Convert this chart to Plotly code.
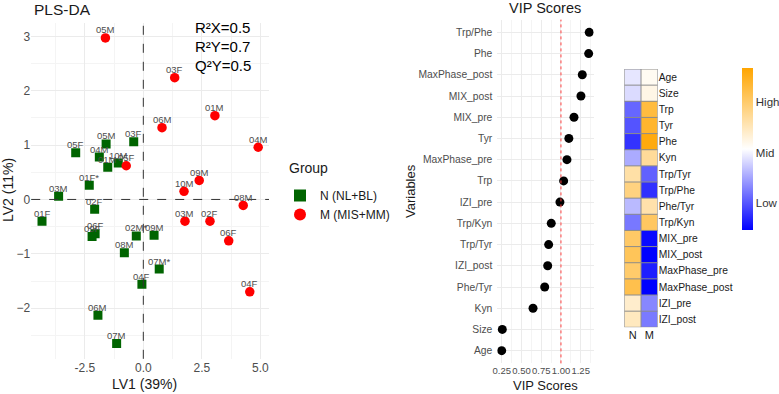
import plotly.graph_objects as go

# ---------------- data ----------------
n_labels = ["05F", "04M", "05M", "03F", "01M", "10M", "01F*", "03M", "02F", "01F",
            "06F", "09F", "02M*", "09M", "08M", "07M*", "04F", "06M", "07M"]
n_lv1 = [-2.89, -1.88, -1.59, -0.41, -1.52, -1.07, -2.31, -3.62, -2.08, -4.33,
         -2.06, -2.19, -0.30, 0.46, -0.81, 0.68, -0.06, -1.94, -1.14]
n_lv2 = [0.86, 0.78, 1.02, 1.06, 0.59, 0.67, 0.26, 0.06, -0.18, -0.40,
         -0.63, -0.68, -0.67, -0.66, -0.98, -1.28, -1.56, -2.13, -2.65]

m_labels = ["05M", "03F", "01M", "06M", "04M", "09M", "10M", "05F", "08M", "03M",
            "02F", "06F", "04F"]
m_lv1 = [-1.62, 1.34, 3.06, 0.80, 4.91, 2.39, 1.74, -0.73, 4.27, 1.78, 2.85, 3.65, 4.55]
m_lv2 = [2.97, 2.24, 1.54, 1.32, 0.96, 0.35, 0.15, 0.62, -0.11, -0.40, -0.40, -0.76, -1.70]

x_ticks = [-2.5, 0.0, 2.5, 5.0]
x_ticktext = ["-2.5", "0.0", "2.5", "5.0"]
y_ticks = [-2, -1, 0, 1, 2, 3]

vip_vars = ["Trp/Phe", "Phe", "MaxPhase_post", "MIX_post", "MIX_pre", "Tyr",
            "MaxPhase_pre", "Trp", "IZI_pre", "Trp/Kyn", "Trp/Tyr", "IZI_post",
            "Phe/Tyr", "Kyn", "Size", "Age"]
vip_scores = [1.358, 1.351, 1.270, 1.253, 1.165, 1.100, 1.076, 1.034, 0.987,
              0.877, 0.844, 0.832, 0.794, 0.646, 0.257, 0.249]
vip_ticks = [0.25, 0.50, 0.75, 1.00, 1.25]
vip_ticktext = ["0.25", "0.50", "0.75", "1.00", "1.25"]
vip_threshold = 1.0

heat_vars = ["Age", "Size", "Trp", "Tyr", "Phe", "Kyn", "Trp/Tyr", "Trp/Phe",
             "Phe/Tyr", "Trp/Kyn", "MIX_pre", "MIX_post", "MaxPhase_pre",
             "MaxPhase_post", "IZI_pre", "IZI_post"]
heat_groups = ["N", "M"]
heat_N = [-0.10, -0.14, -0.60, -0.67, -0.80, -0.33, 0.35, 0.50,
          -0.27, -0.53, 0.60, 0.65, 0.58, 0.70, 0.20, 0.25]
heat_M = [0.05, 0.10, 0.75, 0.82, 0.95, 0.40, -0.62, -0.81,
          0.33, 0.62, -0.96, -1.00, -0.88, -1.00, -0.47, -0.52]
legend_labels = ["High", "Mid", "Low"]
legend_vals = [0.58, -0.05, -0.67]

# ---------------- layout helpers ----------------
W, H = 779, 394
FONT = "Liberation Sans"
GRID = "#ebebeb"
MINOR = "#f4f4f4"
TICKC = "#4d4d4d"


def px_x(a, b):
    return [a / W, b / W]


def px_y(top, bottom):
    return [1 - bottom / H, 1 - top / H]


def padded(vals, frac=0.05):
    lo, hi = min(vals), max(vals)
    d = (hi - lo) * frac
    return [lo - d, hi + d]


fig = go.Figure()

# ---------------- PLS-DA scatter ----------------
fig.add_trace(go.Scatter(
    x=n_lv1, y=n_lv2, mode="markers", name="N (NL+BL)",
    marker=dict(symbol="square", size=9, color="#006400"),
    xaxis="x", yaxis="y", hoverinfo="skip"))
fig.add_trace(go.Scatter(
    x=m_lv1, y=m_lv2, mode="markers", name="M (MIS+MM)",
    marker=dict(symbol="circle", size=9.5, color="#ff0000"),
    xaxis="x", yaxis="y", hoverinfo="skip"))

annotations = []
for lab, xv, yv in list(zip(n_labels, n_lv1, n_lv2)) + list(zip(m_labels, m_lv1, m_lv2)):
    annotations.append(dict(
        x=xv, y=yv, xref="x", yref="y", text=lab, showarrow=False,
        yshift=8, font=dict(family=FONT, size=9.5, color="#4d4d4d")))

# ---------------- VIP dot plot ----------------
fig.add_trace(go.Scatter(
    x=vip_scores, y=vip_vars, mode="markers", showlegend=False,
    marker=dict(size=9, color="#000000"),
    xaxis="x2", yaxis="y2", hoverinfo="skip"))

# ---------------- heatmap ----------------
z = [[a, b] for a, b in zip(heat_N, heat_M)]
cb_top, cb_bot = 67.7, 229.3
fig.add_trace(go.Heatmap(
    z=z, x=heat_groups, y=heat_vars, zmin=-1, zmax=1,
    colorscale=[[0, "#0000ff"], [0.5, "#ffffff"], [1, "#ffa500"]],
    xaxis="x3", yaxis="y3", hoverinfo="skip",
    colorbar=dict(
        thickness=11, lenmode="pixels", len=cb_bot - cb_top,
        x=741.7 / W, xanchor="left", xpad=0, ypad=0,
        y=1 - (cb_top + cb_bot) / 2 / H, yanchor="middle",
        outlinewidth=0, ticks="", tickvals=legend_vals, ticktext=legend_labels,
        tickfont=dict(family=FONT, size=11.5, color="#333333"))))

shapes = [
    dict(type="line", xref="x", yref="y domain", x0=0, x1=0, y0=0, y1=1,
         line=dict(color="#333333", width=1, dash="dash")),
    dict(type="line", xref="x domain", yref="y", x0=0, x1=1, y0=0, y1=0,
         line=dict(color="#333333", width=1, dash="dash")),
    dict(type="line", xref="x2", yref="y2 domain", x0=vip_threshold, x1=vip_threshold,
         y0=0, y1=1, line=dict(color="#ff4040", width=1, dash="dot")),
]
for i in range(len(heat_groups) + 1):
    shapes.append(dict(type="line", xref="x3", yref="y3", x0=i - 0.5, x1=i - 0.5,
                       y0=-0.5, y1=len(heat_vars) - 0.5,
                       line=dict(color="#8c8c8c", width=1)))
for j in range(len(heat_vars) + 1):
    shapes.append(dict(type="line", xref="x3", yref="y3", x0=-0.5,
                       x1=len(heat_groups) - 0.5, y0=j - 0.5, y1=j - 0.5,
                       line=dict(color="#8c8c8c", width=1)))


def txt(text, x, y, size, color="#000000", angle=0, xanchor="center"):
    return dict(text=text, x=x / W, y=1 - y / H, xref="paper", yref="paper",
                showarrow=False, textangle=angle, xanchor=xanchor, yanchor="middle",
                font=dict(family=FONT, size=size, color=color))


annotations += [
    txt("PLS-DA", 32, 9, 15.5, "#1a1a1a", xanchor="left"),
    txt("LV2 (11%)", 8, 190, 14, "#1a1a1a", angle=-90),
    txt("LV1 (39%)", 144, 384, 14, "#1a1a1a"),
    txt("R²X=0.5", 193, 28, 15, xanchor="left"),
    txt("R²Y=0.7", 193, 47, 15, xanchor="left"),
    txt("Q²Y=0.5", 193, 66, 15, xanchor="left"),
    txt("Group", 287, 168, 14, "#1a1a1a", xanchor="left"),
    txt("VIP Scores", 545, 8, 14.5, "#1a1a1a"),
    txt("Variables", 410, 191, 13, "#1a1a1a", angle=-90),
    txt("VIP Scores", 545, 385, 13, "#1a1a1a"),
]

axis_common = dict(showline=False, zeroline=False, ticks="", automargin=False,
                   tickfont=dict(family=FONT, size=12, color=TICKC))

fig.update_layout(
    width=W, height=H, margin=dict(l=0, r=0, t=0, b=0, autoexpand=False),
    paper_bgcolor="white", plot_bgcolor="white",
    font=dict(family=FONT, color="#1a1a1a"),
    showlegend=True,
    legend=dict(x=280 / W, y=1 - 181 / H, xanchor="left", yanchor="top",
                font=dict(family=FONT, size=12, color="#1a1a1a"),
                bgcolor="rgba(0,0,0,0)", tracegroupgap=0, itemsizing="constant"),
    xaxis=dict(domain=px_x(31.2, 269), range=padded(n_lv1 + m_lv1),
               tickvals=x_ticks, ticktext=x_ticktext, showgrid=True, gridcolor=GRID,
               minor=dict(dtick=1.25, tick0=0, showgrid=True, gridcolor=MINOR),
               anchor="y", tickangle=0, **axis_common),
    yaxis=dict(domain=px_y(22.7, 358.8), range=padded(n_lv2 + m_lv2),
               tickvals=y_ticks, showgrid=True, gridcolor=GRID,
               minor=dict(dtick=0.5, tick0=0, showgrid=True, gridcolor=MINOR),
               anchor="x", **axis_common),
    xaxis2=dict(domain=px_x(497.3, 593.6), range=padded(vip_scores),
                tickvals=vip_ticks, ticktext=vip_ticktext,
                showgrid=True, gridcolor=GRID, tickangle=0,
                minor=dict(dtick=0.125, tick0=0, showgrid=True, gridcolor=MINOR),
                anchor="y2", showline=False, zeroline=False, ticks="", automargin=False,
                tickfont=dict(family=FONT, size=9.5, color=TICKC)),
    yaxis2=dict(domain=px_y(19.6, 363.4), type="category",
                categoryorder="array", categoryarray=vip_vars[::-1],
                range=[-0.6, len(vip_vars) - 0.4], ticklabelstandoff=4,
                showgrid=True, gridcolor=GRID, anchor="x2",
                showline=False, zeroline=False, ticks="", automargin=False,
                tickfont=dict(family=FONT, size=10.3, color=TICKC)),
    xaxis3=dict(domain=px_x(624.3, 657.7), type="category",
                categoryorder="array", categoryarray=heat_groups,
                range=[-0.5, len(heat_groups) - 0.5], automargin=False,
                showgrid=False, zeroline=False, ticks="", anchor="y3", tickangle=0,
                tickfont=dict(family=FONT, size=11, color="#1a1a1a")),
    yaxis3=dict(domain=px_y(69, 327.3), type="category",
                categoryorder="array", categoryarray=heat_vars,
                range=[len(heat_vars) - 0.5, -0.5], side="right", automargin=False,
                showgrid=False, zeroline=False, ticks="", anchor="x3",
                tickfont=dict(family=FONT, size=10.3, color="#1a1a1a")),
    shapes=shapes,
    annotations=annotations,
)

fig.write_html("out.html", config={"displayModeBar": False},
               post_script="document.body.style.margin='0';")
